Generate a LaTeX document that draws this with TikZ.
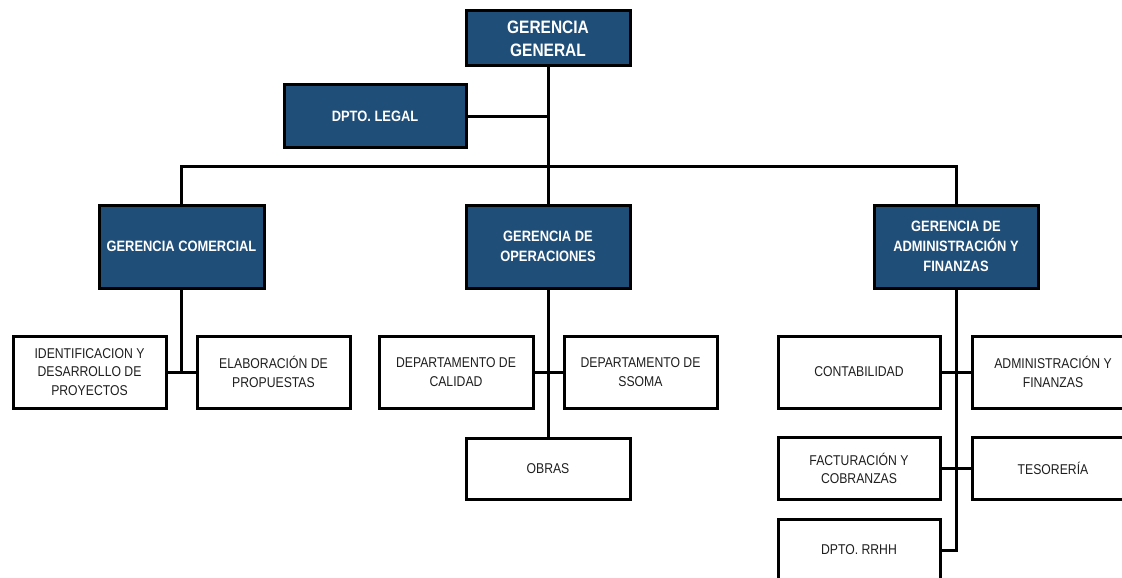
\documentclass[tikz,border=0pt]{standalone}
\usepackage{fontspec}
\setmainfont{Liberation Sans}[FakeStretch=0.86]
\definecolor{boxblue}{RGB}{31,78,121}
\definecolor{txt}{RGB}{30,30,30}
\begin{document}
\begin{tikzpicture}[x=1pt,y=-1pt,
  bluebox/.style={draw=black,line width=3pt,fill=boxblue,text=white,inner sep=0pt,align=center,
     font=\fontsize{15}{20}\selectfont\bfseries},
  whitebox/.style={draw=black,line width=3pt,fill=white,text=txt,inner sep=0pt,align=center,
     font=\fontsize{14.2}{18.5}\selectfont},
  link/.style={line width=3pt,draw=black}]
\useasboundingbox (0,0) rectangle (1122,578);
\coordinate (bus) at (548,166);
% nodes
\node[bluebox,minimum width=164pt,minimum height=55pt,font=\fontsize{18}{23}\selectfont\bfseries] (gg) at (548,38.5) {GERENCIA\\GENERAL};
\node[bluebox,minimum width=182pt,minimum height=62pt] (legal) at (375,116) {DPTO. LEGAL};
\node[bluebox,minimum width=165pt,minimum height=83pt] (com) at (181.5,246.5) {GERENCIA COMERCIAL};
\node[bluebox,minimum width=164pt,minimum height=83pt] (ope) at (548,246.5) {GERENCIA DE\\OPERACIONES};
\node[bluebox,minimum width=164pt,minimum height=83pt] (adm) at (956,246.5) {GERENCIA DE\\ADMINISTRACIÓN Y\\FINANZAS};
\node[whitebox,minimum width=153pt,minimum height=72pt] (ident) at (89.5,372) {IDENTIFICACION Y\\DESARROLLO DE\\PROYECTOS};
\node[whitebox,minimum width=153pt,minimum height=72pt] (elab) at (273.5,372) {ELABORACIÓN DE\\PROPUESTAS};
\node[whitebox,minimum width=154pt,minimum height=72pt] (cal) at (456,372) {DEPARTAMENTO DE\\CALIDAD};
\node[whitebox,minimum width=153pt,minimum height=72pt] (ssoma) at (640.5,372) {DEPARTAMENTO DE\\SSOMA};
\node[whitebox,minimum width=164pt,minimum height=61pt] (obras) at (548,468.5) {OBRAS};
\node[whitebox,minimum width=162pt,minimum height=72pt] (cont) at (859,372) {CONTABILIDAD};
\node[whitebox,minimum width=162pt,minimum height=72pt] (admfin) at (1053,372) {ADMINISTRACIÓN Y\\FINANZAS};
\node[whitebox,minimum width=162pt,minimum height=62pt] (fact) at (859,468.5) {FACTURACIÓN Y\\COBRANZAS};
\node[whitebox,minimum width=162pt,minimum height=62pt] (teso) at (1053,468.5) {TESORERÍA};
\node[whitebox,minimum width=162pt,minimum height=62pt] (rrhh) at (859,550) {DPTO. RRHH};
% links
\draw[link] (gg.south) -- (ope.north);
\draw[link] (legal.east) -- (gg.south |- legal.east);
\draw[link] (com.north) |- (bus) -| (adm.north);
\draw[link] (com.south) -- (com.south |- ident.east);
\draw[link] (ident.east) -- (elab.west);
\draw[link] (ope.south) -- (obras.north);
\draw[link] (cal.east) -- (ssoma.west);
\draw[link] (adm.south) |- (rrhh.east);
\draw[link] (cont.east) -- (admfin.west);
\draw[link] (fact.east) -- (teso.west);
\end{tikzpicture}
\end{document}
